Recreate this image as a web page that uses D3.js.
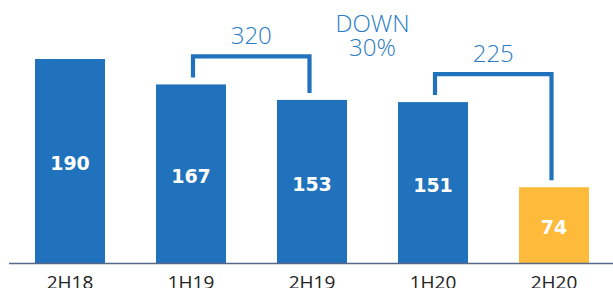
<!DOCTYPE html>
<html><head><meta charset="utf-8">
<script src="https://cdn.jsdelivr.net/npm/d3@7"></script>
<style>html,body{margin:0;padding:0;background:#fff;overflow:hidden}</style>
</head><body>
<svg id="chart" width="613" height="288"></svg>
<script>
const categories = ["2H18","1H19","2H19","1H20","2H20"];
const values = [190,167,153,151,74];
const highlight = ["2H20"];
const brackets = [
  {from:"1H19", to:"2H19", label:"320"},
  {from:"1H20", to:"2H20", label:"225"}
];
const noteLines = ["DOWN","30%"];

const blue = "#1f72bb", yellow = "#fdba3b", noteColor = "#2a7bc3";
const svg = d3.select("#chart");
const baseline = 263.5;
const x = d3.scaleBand().domain(categories).range([-13.4, 637.4]).paddingInner(0.4215).paddingOuter(0.4);
const y = d3.scaleLinear().domain([5, 190]).range([baseline, 59]);
const data = categories.map((c,i)=>({c, v:values[i]}));

svg.selectAll("rect.bar").data(data).enter().append("rect")
  .attr("x", d=>x(d.c)).attr("width", x.bandwidth())
  .attr("y", d=>y(d.v)).attr("height", d=>baseline - y(d.v))
  .attr("fill", d=>highlight.includes(d.c)? yellow : blue);

svg.selectAll("text.val").data(data).enter().append("text")
  .attr("x", d=>x(d.c)+x.bandwidth()/2)
  .attr("y", d=>(y(d.v)+baseline)/2 + 9)
  .attr("text-anchor","middle")
  .attr("fill","#fff")
  .style("font-family","'DejaVu Sans'").style("font-weight","bold").style("font-size","19px")
  .text(d=>d.v);

// axis
const xAxis = d3.axisBottom(x).tickSize(0).tickPadding(0);
const ax = svg.append("g").attr("transform",`translate(0,${baseline})`).call(xAxis);
ax.select(".domain").remove();
ax.selectAll("text").attr("dy",null).attr("y",25)
  .style("font-family","'Open Sans'").style("font-size","19px").attr("fill","#222");
svg.append("line").attr("x1",9).attr("x2",613).attr("y1",baseline).attr("y2",baseline)
  .attr("stroke","#56678a").attr("stroke-width",1.6);

// brackets
const vmap = Object.fromEntries(data.map(d=>[d.c,d.v]));
brackets.forEach(b=>{
  const x1 = x(b.from)+x.bandwidth()/2+2, x2 = x(b.to)+x.bandwidth()/2-2.5;
  const t1 = y(vmap[b.from]), t2 = y(vmap[b.to]);
  const top = Math.min(t1,t2) - 28;
  svg.append("path")
    .attr("d",`M${x1},${t1-7}V${top}H${x2}V${t2-7}`)
    .attr("fill","none").attr("stroke",blue).attr("stroke-width",4.2);
  svg.append("text").attr("x",(x1+x2)/2).attr("y",top-12)
    .attr("text-anchor","middle").attr("fill",noteColor)
    .style("font-family","'Open Sans'").style("font-weight","300").style("font-size","24px")
    .text(b.label);
});

// note
const mid = (x("2H19")+x("1H20")+x.bandwidth())/2;
svg.append("text").attr("text-anchor","middle").attr("fill",noteColor)
  .style("font-family","'Open Sans'").style("font-weight","300").style("font-size","24px")
  .selectAll("tspan").data(noteLines).enter().append("tspan")
  .attr("x",mid).attr("y",(d,i)=>32.3+i*23.7).text(d=>d);
</script>
</body></html>
